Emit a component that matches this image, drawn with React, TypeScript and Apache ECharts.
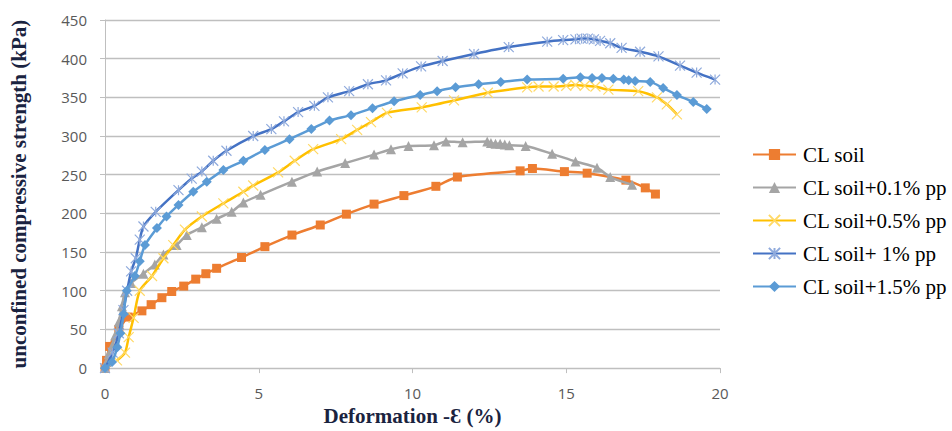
import React, { useEffect, useRef } from "react";
import * as echarts from "echarts";

const seriesNames = [
  "CL soil",
  "CL soil+0.1% pp",
  "CL soil+0.5% pp",
  "CL soil+ 1% pp",
  "CL soil+1.5% pp",
];

const xTicks = [0, 5, 10, 15, 20];
const yTicks = [0, 50, 100, 150, 200, 250, 300, 350, 400, 450];

const clSoil: number[][] = [
  [0, 0], [0.05, 10], [0.15, 28], [0.45, 50], [0.75, 66], [1.2, 74], [1.5, 82],
  [1.85, 91], [2.17, 99], [2.56, 106], [2.95, 115], [3.28, 122], [3.63, 129],
  [4.44, 143], [5.2, 157], [6.08, 172], [7.0, 185], [7.85, 199], [8.75, 212],
  [9.72, 223], [10.76, 235], [11.46, 247], [13.5, 255], [13.9, 258], [14.94, 254],
  [15.68, 252], [16.94, 243], [17.57, 233], [17.9, 225],
];

const clSoil01: number[][] = [
  [0, 0], [0.05, 8], [0.12, 18], [0.25, 30], [0.33, 42], [0.45, 60], [0.55, 80],
  [0.65, 98], [0.85, 110], [1.25, 122], [1.62, 134], [1.9, 147], [2.33, 159],
  [2.66, 172], [3.15, 182], [3.63, 193], [4.12, 202], [4.5, 214], [5.06, 224],
  [6.08, 241], [6.9, 254], [7.81, 265], [8.75, 276], [9.3, 283], [9.87, 287],
  [10.7, 288], [11.09, 293], [11.63, 292], [12.43, 293], [12.55, 291], [12.7, 290],
  [12.85, 290], [13.0, 289], [13.15, 288], [13.68, 287], [14.54, 277], [15.3, 267],
  [16.0, 259], [16.43, 247], [17.14, 237],
];

const clSoil05: number[][] = [
  [0.39, 10], [0.65, 20], [0.77, 40], [0.93, 65], [1.13, 100], [1.53, 119],
  [1.9, 142], [2.22, 159], [2.6, 179], [3.15, 196], [3.85, 213], [4.5, 228],
  [4.82, 236], [5.63, 253], [6.17, 268], [6.77, 283], [7.68, 296], [8.2, 308],
  [8.65, 318], [9.17, 330], [10.3, 337], [11.35, 346], [12.45, 356], [13.73, 363],
  [14.1, 364], [14.59, 364], [15.0, 365], [15.3, 366], [15.6, 365], [15.95, 364],
  [16.37, 360], [17.34, 358], [17.95, 350], [18.27, 341], [18.6, 328],
];

const clSoil1: number[][] = [
  [0, 0], [0.25, 20], [0.45, 45], [0.6, 75], [0.72, 100], [0.85, 125], [1.0, 142],
  [1.13, 166], [1.25, 183], [1.65, 202], [2.39, 230], [2.82, 245], [3.15, 254],
  [3.52, 268], [3.95, 281], [4.82, 300], [5.41, 309], [5.82, 319], [6.28, 331],
  [6.81, 339], [7.25, 350], [7.94, 358], [8.55, 367], [9.14, 372], [9.68, 381],
  [10.28, 390], [10.98, 397], [12.0, 406], [13.13, 415], [14.38, 422], [14.9, 424],
  [15.3, 425], [15.5, 426], [15.7, 426], [15.9, 425], [16.1, 423], [16.43, 420],
  [16.8, 414], [17.4, 409], [18.0, 403], [18.7, 391], [19.24, 382], [19.84, 373],
];

const clSoil15: number[][] = [
  [0, 0], [0.23, 8], [0.4, 27], [0.5, 45], [0.61, 70], [0.71, 100], [0.97, 119],
  [1.13, 138], [1.3, 159], [1.69, 181], [2.0, 196], [2.39, 211], [2.87, 228],
  [3.31, 241], [3.85, 256], [4.5, 268], [5.2, 282], [6.0, 296], [6.71, 309],
  [7.3, 320], [8.0, 327], [8.7, 336], [9.4, 345], [10.25, 353], [10.8, 358],
  [11.4, 363], [12.15, 367], [12.87, 370], [13.73, 373], [14.9, 374], [15.46, 376],
  [15.84, 375], [16.16, 375], [16.53, 374], [16.87, 373], [17.03, 372], [17.24, 371],
  [17.73, 370], [18.15, 362], [18.6, 353], [19.13, 344], [19.57, 335],
];

const seriesData = [clSoil, clSoil01, clSoil05, clSoil1, clSoil15];
const lineColors = ["#ED7D31", "#A5A5A5", "#FFC000", "#4472C4", "#5B9BD5"];
const markerColors = ["#ED7D31", "#A5A5A5", "#FFD966", "#8FAADC", "#5B9BD5"];
const symbols = [
  "rect",
  "triangle",
  "path://M0,0L10,10M10,0L0,10",
  "path://M5,0L5,10M0,0L10,10M10,0L0,10",
  "diamond",
];
const symbolSizes = [9, 10, 10, 10, 10];

export default function App() {
  const ref = useRef<HTMLDivElement>(null);

  useEffect(() => {
    if (!ref.current) return;
    const chart = echarts.init(ref.current, undefined, { renderer: "svg" });
    const isStroke = (i: number) => i === 2 || i === 3;
    chart.setOption({
      animation: false,
      backgroundColor: "#ffffff",
      grid: { left: 103, right: 232, top: 20, bottom: 60 },
      legend: {
        orient: "vertical",
        left: 747,
        top: 139,
        itemWidth: 43,
        itemHeight: 14,
        itemGap: 12,
        data: seriesNames,
        textStyle: {
          fontFamily: "'Liberation Serif', 'Times New Roman', serif",
          fontSize: 21,
          color: "#000000",
          padding: [0, 0, 0, 2],
        },
      },
      xAxis: {
        type: "value",
        min: xTicks[0],
        max: xTicks[xTicks.length - 1],
        interval: 5,
        name: "Deformation -Ɛ (%)",
        nameLocation: "middle",
        nameGap: 28,
        nameTextStyle: {
          fontFamily: "'Liberation Serif', 'Times New Roman', serif",
          fontWeight: "bold",
          fontSize: 21,
          color: "#1a2340",
        },
        axisLine: { show: true, lineStyle: { color: "#BFBFBF", width: 1 } },
        axisTick: { show: true, length: 5, lineStyle: { color: "#BFBFBF" } },
        axisLabel: {
          margin: 17,
          fontFamily: "'Open Sans', 'Noto Sans', sans-serif",
          fontSize: 15,
          color: "#595959",
        },
        splitLine: { show: false },
      },
      yAxis: {
        type: "value",
        min: yTicks[0],
        max: yTicks[yTicks.length - 1],
        interval: 50,
        name: "unconfined compressive strength (kPa)",
        nameLocation: "middle",
        nameGap: 76,
        nameTextStyle: {
          fontFamily: "'Liberation Serif', 'Times New Roman', serif",
          fontWeight: "bold",
          fontSize: 21,
          color: "#1a2340",
        },
        axisLine: { show: true, lineStyle: { color: "#BFBFBF", width: 1 } },
        axisTick: { show: true, length: 5, lineStyle: { color: "#BFBFBF" } },
        axisLabel: {
          margin: 18,
          fontFamily: "'Open Sans', 'Noto Sans', sans-serif",
          fontSize: 15,
          color: "#595959",
        },
        splitLine: { show: true, lineStyle: { color: "#BFBFBF", width: 1.3 } },
      },
      series: seriesNames.map((name, i) => ({
        name,
        type: "line",
        data: seriesData[i],
        smooth: 0.25,
        symbol: symbols[i],
        symbolSize: symbolSizes[i],
        showSymbol: true,
        color: lineColors[i],
        lineStyle: { color: lineColors[i], width: 2.5 },
        itemStyle: isStroke(i)
          ? { color: markerColors[i], borderColor: markerColors[i], borderWidth: 1.2 }
          : { color: markerColors[i], borderWidth: 0 },
        z: 2 + i,
      })),
    });
    return () => chart.dispose();
  }, []);

  return (
    <div
      ref={ref}
      style={{ position: "fixed", left: 0, top: 0, width: 952, height: 431 }}
    />
  );
}
